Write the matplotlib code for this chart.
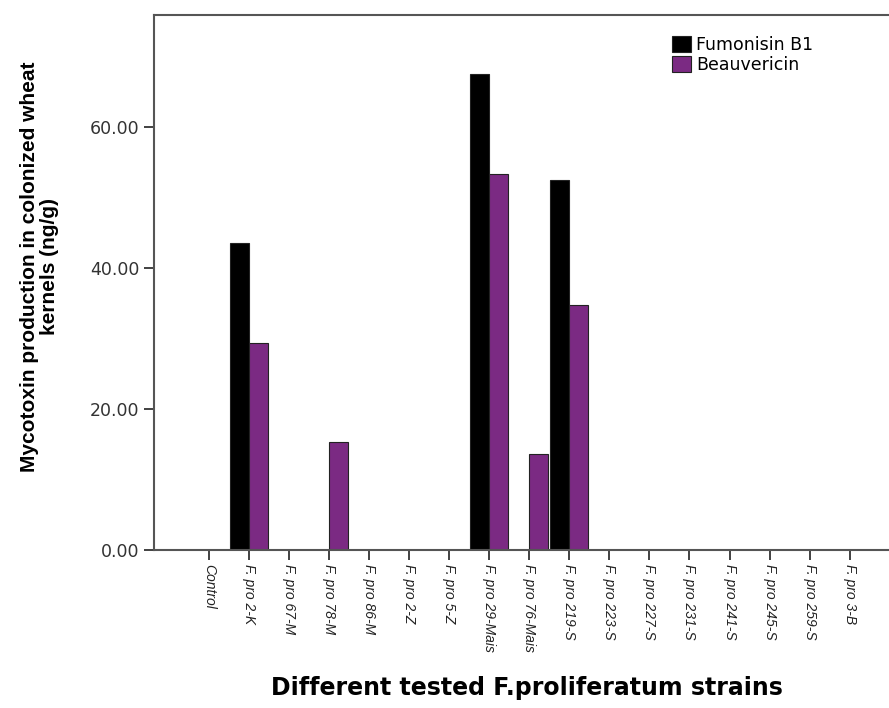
import numpy as np
import matplotlib.pyplot as plt

strains = ['Control', 'F. pro 2-K', 'F. pro 67-M', 'F. pro 78-M', 'F. pro 86-M',
           'F. pro 2-Z', 'F. pro 5-Z', 'F. pro 29-Mais', 'F. pro 76-Mais',
           'F. pro 219-S', 'F. pro 223-S', 'F. pro 227-S', 'F. pro 231-S',
           'F. pro 241-S', 'F. pro 245-S', 'F. pro 259-S', 'F. pro 3-B']
fumonisin = [0, 43.5, 0, 0, 0, 0, 0, 67.6, 0, 52.5, 0, 0, 0, 0, 0, 0, 0]
beauvericin = [0, 29.3, 0, 15.3, 0, 0, 0, 53.3, 13.6, 34.7, 0, 0, 0, 0, 0, 0, 0]
yticks = [0, 20, 40, 60]

plt.rcParams['font.family'] = ['Liberation Sans', 'DejaVu Sans']

fig = plt.figure(figsize=(8.89, 7.08), dpi=100)
ax = fig.add_axes([0.1732, 0.2232, 0.85, 0.7556])

x = np.arange(len(strains))
w = 0.476
ax.bar(x - w / 2, fumonisin, w, color='black', edgecolor='#222222', linewidth=0.8,
       label='Fumonisin B1')
ax.bar(x + w / 2, beauvericin, w, color='#7B2A83', edgecolor='#222222', linewidth=0.8,
       label='Beauvericin')

ax.set_xlim(-1.38, 17.5)
ax.set_ylim(0, 75.9)
ax.set_yticks(yticks)
ax.set_yticklabels(['%.2f' % v for v in yticks], fontsize=12.5, color='#333333',
                   family='DejaVu Sans')
ax.set_xticks(x)
ax.set_xticklabels(strains, rotation=270, fontsize=10, style='italic', color='#222222')

for side in ['left', 'top', 'bottom']:
    ax.spines[side].set_color('#555555')
    ax.spines[side].set_linewidth(1.5)
ax.spines['right'].set_visible(False)
ax.tick_params(axis='both', direction='out', length=7, width=1.3, color='#333333')
ax.tick_params(axis='x', pad=3)

ax.set_ylabel('Mycotoxin production in colonized wheat\nkernels (ng/g)', fontsize=15,
              fontweight='bold', family='Liberation Sans', linespacing=1.05)
ax.yaxis.set_label_coords(-0.126, 0.529)
fig.text(0.593, 0.028, 'Different tested F.proliferatum strains', ha='center', va='center',
         fontsize=17, fontweight='bold', family='DejaVu Sans')

fig.legend(loc='upper left', bbox_to_anchor=(0.746, 0.962), frameon=False,
           prop={'family': 'DejaVu Sans', 'size': 12.5},
           handlelength=1.1, handleheight=1.05, handletextpad=0.3, labelspacing=0.15,
           borderpad=0)

fig.savefig('out.png', dpi=100)
